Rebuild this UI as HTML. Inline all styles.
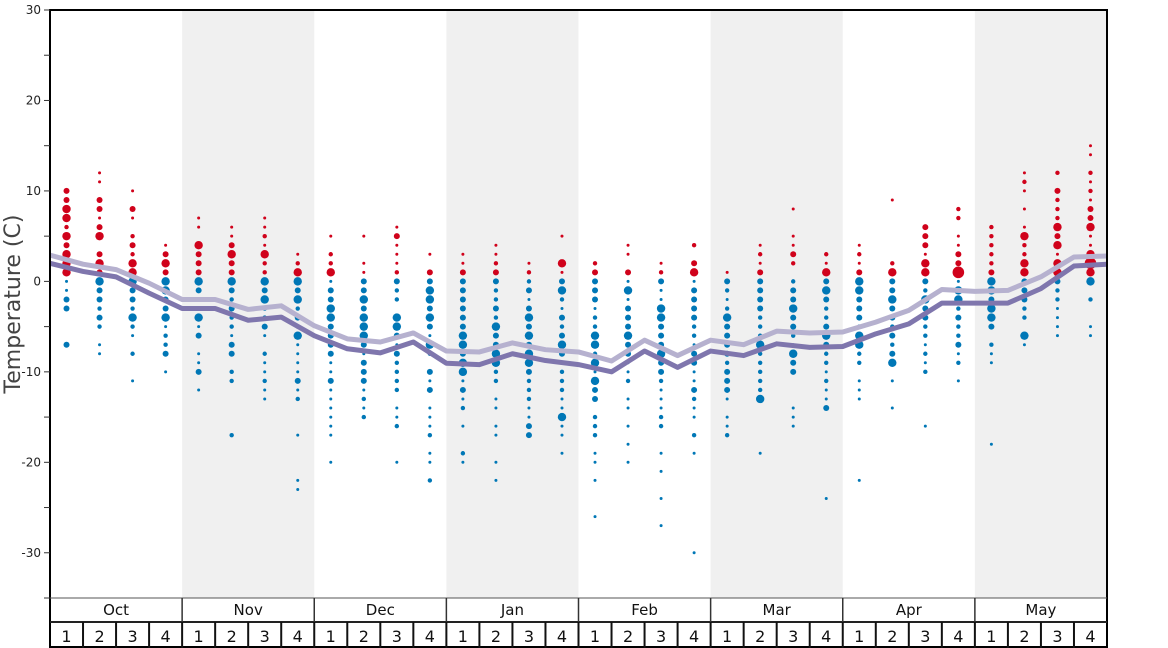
<!DOCTYPE html>
<html><head><meta charset="utf-8"><style>
html,body{margin:0;padding:0;background:#fff;}
svg{display:block;font-family:"DejaVu Sans","Liberation Sans",sans-serif;}
</style></head><body>
<svg id="chart" width="1168" height="648" viewBox="0 0 1168 648" xmlns="http://www.w3.org/2000/svg">
<g id="bands"></g>
<g id="dots"></g>
<g id="lines"></g>
<g id="axes"></g>
<text transform="translate(20,304) rotate(-90)" text-anchor="middle" font-size="22" fill="#444">Temperature (C)</text>
</svg>
<script>
const months = ["Oct","Nov","Dec","Jan","Feb","Mar","Apr","May"];
const weeks = ["1","2","3","4"];
const yTicks = [30,20,10,0,-10,-20,-30];
const yMinorTicks = [25,15,5,-5,-15,-25,-35];
// line values at week boundaries (33 points)
const darkLine = [2.0,1.1,0.5,-1.3,-3.0,-3.0,-4.3,-3.95,-6.0,-7.45,-7.9,-6.7,-9.05,-9.2,-8.0,-8.75,-9.2,-10.0,-7.7,-9.5,-7.7,-8.2,-6.9,-7.3,-7.2,-5.8,-4.7,-2.4,-2.4,-2.4,-0.8,1.7,1.9];
const lightLine = [2.9,1.9,1.3,-0.2,-2.0,-2.0,-3.1,-2.7,-4.9,-6.35,-6.7,-5.7,-7.7,-7.8,-6.8,-7.55,-7.8,-8.8,-6.5,-8.2,-6.5,-7.0,-5.5,-5.7,-5.6,-4.5,-3.2,-0.9,-1.1,-1.0,0.5,2.7,2.8];
// dots per week: "temp:size" (t tiny, s small, m medium, L large, X extra)
const weekDots = [
"10:m 9:m 8:L 7:L 6:s 5:L 4:m 3:L 2:L 1:L 0:t -1:t -2:m -3:m -7:m",
"12:t 11:t 9:m 8:m 7:t 6:m 5:L 3:m 2:L 1:m 0:L -1:m -2:m -3:s -4:m -5:s -7:t -8:t",
"10:t 8:m 7:t 5:s 4:m 3:s 2:L 1:L 0:L -1:m -2:m -3:s -4:L -5:s -6:t -8:s -11:t",
"4:t 3:m 2:L 1:m 0:L -1:L -2:m -3:m -4:L -5:t -6:s -7:s -8:m -10:t",
"7:t 6:t 4:L 3:m 2:m 1:m 0:L -1:m -2:s -3:s -4:L -5:t -6:m -8:t -9:t -10:m -12:t",
"6:t 5:t 4:m 3:L 2:m 1:m 0:L -1:m -2:s -3:m -4:s -5:s -6:t -7:m -8:m -10:s -11:s -17:s",
"7:t 6:t 5:s 4:t 3:L 2:s 1:s 0:L -1:m -2:L -3:s -4:s -5:m -6:t -8:s -9:t -10:t -11:s -12:t -13:t",
"3:t 2:s 1:L 0:L -1:m -2:L -3:s -4:m -5:s -6:L -7:t -8:t -9:t -10:t -11:m -12:t -13:s -17:t -22:t -23:t",
"5:t 3:s 2:s 1:L 0:t -1:m -2:m -3:L -4:L -5:m -6:m -7:m -8:m -9:t -10:t -11:m -12:t -13:t -14:t -15:t -16:t -17:t -20:t",
"5:t 2:t 1:t 0:m -1:m -2:L -3:m -4:L -5:L -6:L -7:m -8:t -9:m -10:m -11:m -12:t -13:s -14:t -15:s",
"6:t 5:m 4:t 3:t 2:t 1:s 0:m -1:s -2:s -4:L -5:L -6:m -7:t -8:m -9:s -10:s -11:s -12:s -14:t -15:t -16:s -20:t",
"3:t 1:m 0:m -1:L -2:L -3:m -4:L -5:m -6:t -7:L -8:s -10:m -11:t -12:m -14:t -15:t -16:t -17:s -19:t -20:t -22:s",
"3:t 2:t 1:m 0:m -1:m -2:m -3:m -4:m -5:m -6:L -7:L -8:m -9:L -10:L -11:t -12:m -13:t -14:s -16:t -19:s -20:t",
"4:t 3:t 2:s 1:m 0:m -1:s -2:s -3:m -4:s -5:L -6:m -7:m -8:L -9:L -10:s -11:s -13:t -14:t -16:t -17:t -20:t -22:t",
"2:t 1:s 0:s -1:m -2:t -3:m -4:L -5:m -6:L -7:m -8:L -9:L -10:m -11:s -12:s -13:s -14:t -15:t -16:m -17:m",
"5:t 2:L 1:t 0:m -1:L -2:s -3:t -4:m -5:s -6:m -7:L -8:m -9:t -10:s -11:s -12:s -13:t -14:t -15:L -16:t -17:t -19:t",
"2:s 1:m 0:m -1:m -2:m -3:t -4:s -5:s -6:L -7:L -8:s -9:L -10:t -11:L -12:m -13:m -15:s -16:s -17:s -19:t -20:t -22:t -26:t",
"4:t 3:t 1:m 0:t -1:L -2:t -3:m -4:m -5:m -6:L -7:m -8:m -9:t -10:t -11:s -13:t -14:t -16:t -18:t -20:t",
"2:t 1:s 0:m -1:t -2:t -3:L -4:L -5:m -6:m -7:m -8:L -9:m -10:m -11:s -12:t -13:t -14:t -15:s -16:s -19:t -21:t -24:t -27:t",
"4:s 2:m 1:L 0:t -1:m -2:m -3:m -4:m -5:s -6:s -7:t -8:m -9:m -10:t -11:t -12:m -13:s -14:t -15:t -17:s -19:t -30:t",
"1:t 0:m -1:s -2:t -3:s -4:L -5:m -6:m -7:m -8:m -9:s -10:m -11:m -12:m -13:t -15:t -16:t -17:s",
"4:t 3:s 2:t 1:m 0:m -1:m -2:m -3:m -4:s -5:s -6:s -7:L -8:s -9:s -10:s -11:s -12:s -13:L -19:t",
"8:t 5:t 4:t 3:m 2:s 0:s -1:m -2:m -3:L -4:m -5:m -6:s -7:t -8:L -9:m -10:m -14:t -15:t -16:t",
"3:s 2:t 1:L 0:m -1:L -2:m -3:s -4:s -5:m -6:L -7:m -8:s -9:s -10:t -11:s -12:t -13:t -14:m -24:t",
"4:t 3:s 2:t 1:m 0:L -1:L -2:m -3:m -4:m -5:s -6:L -7:L -8:s -9:s -11:t -12:t -13:t -22:t",
"9:t 2:s 1:L 0:m -1:m -2:L -3:m -4:m -5:s -6:m -7:s -8:m -9:L -11:t -14:t",
"6:m 5:m 4:m 3:t 2:L 1:L 0:m -1:s -2:L -3:m -4:m -5:s -6:s -7:t -8:s -9:t -10:s -16:t",
"8:s 7:s 5:t 4:t 3:m 2:m 1:X 0:t -1:L -2:L -3:s -4:m -5:s -6:s -7:m -8:t -9:s -11:t",
"6:s 5:s 4:s 3:s 2:s 1:m 0:L -1:L -2:m -3:L -4:L -5:m -7:s -8:t -9:t -18:t",
"12:t 11:s 10:t 8:t 6:t 5:L 4:s 3:s 2:L 1:L 0:m -1:m -2:m -3:s -4:s -6:L -7:t",
"12:s 10:m 9:s 8:s 7:s 6:L 5:m 4:L 3:t 2:L 1:L 0:m -1:s -2:s -3:t -4:t -5:t -6:t",
"15:t 14:t 12:s 11:t 10:s 9:t 8:m 7:m 6:L 5:t 4:t 3:L 2:X 1:L 0:L -2:s -5:t -6:t"
];
const NS="http://www.w3.org/2000/svg";
const X0=50, X1=1107, Y0=10, Y1=598, TMAX=30, TMIN=-35;
const colW=(X1-X0)/32;
function xScale(i){return X0+colW*i;}
function yScale(t){return Y0+(TMAX-t)*(Y1-Y0)/(TMAX-TMIN);}
function mk(tag,parent){const e=document.createElementNS(NS,tag);parent.appendChild(e);return e;}
const radius={t:1.5,s:2.2,m:3.0,L:4.2,X:5.8};
const bands=document.getElementById('bands');
months.forEach((m,i)=>{
  if(i%2===1){
    const r=mk('rect',bands);
    
    
    r.setAttribute('x',xScale(i*4));r.setAttribute('y',Y0);r.setAttribute('width',colW*4);r.setAttribute('height',Y1-Y0);r.setAttribute('fill','#f0f0f0');
  }
});
const dotsG=document.getElementById('dots');
weekDots.forEach((s,i)=>{
  const cx=xScale(i+0.5);
  s.split(' ').forEach(p=>{
    const [tv,sz]=p.split(':');const t=+tv;
    const c=mk('circle',dotsG);
    
    
    c.setAttribute('cx',cx);c.setAttribute('cy',yScale(t));c.setAttribute('r',radius[sz]);
    c.setAttribute('fill',t>0?'#d0021b':'#0077b6');
  });
});
const linesG=document.getElementById('lines');
function drawLine(arr,color,name){
  const p=mk('polyline',linesG);
  
  
  p.setAttribute('points',arr.map((v,i)=>xScale(i)+','+yScale(v)).join(' '));
  p.setAttribute('fill','none');p.setAttribute('stroke',color);p.setAttribute('stroke-width','5');p.setAttribute('stroke-linejoin','round');
}
drawLine(lightLine,'#b6b1cf','light-line');
drawLine(darkLine,'#7f76ad','dark-line');
const ax=document.getElementById('axes');
function line(x1,y1,x2,y2,w,col,name){const l=mk('line',ax);
  
  
  l.setAttribute('x1',x1);l.setAttribute('y1',y1);l.setAttribute('x2',x2);l.setAttribute('y2',y2);l.setAttribute('stroke',col);l.setAttribute('stroke-width',w);}
line(X0,Y0,X1+1,Y0,2,'#000','top-border');
line(X1,Y0,X1,648,2,'#000','right-border');
line(X0,Y0-1,X0,648,2,'#000','y-axis-line');
line(X0,Y1,X1,Y1,1,'#555','month-row-top');
line(X0,622,X1,622,2,'#222','week-row-top');
line(X0,647,X1,647,2,'#000','bottom-border');
yTicks.forEach(t=>{
  line(44,yScale(t),X0,yScale(t),1,'#333','y-tick');
  const tx=mk('text',ax);
  
  
  tx.setAttribute('x',41);tx.setAttribute('y',yScale(t)+4);tx.setAttribute('text-anchor','end');tx.setAttribute('font-size','12');tx.setAttribute('fill','#222');tx.textContent=t;
});
yMinorTicks.forEach(t=>{line(44,yScale(t),X0,yScale(t),1,'#333','y-minor-tick');});
months.forEach((m,i)=>{
  if(i>0) line(xScale(i*4),Y1,xScale(i*4),622,1.5,'#333','month-divider');
  const tx=mk('text',ax);
  
  
  tx.setAttribute('x',xScale(i*4+2));tx.setAttribute('y',615);tx.setAttribute('text-anchor','middle');tx.setAttribute('font-size','15');tx.setAttribute('fill','#111');tx.textContent=m;
  weeks.forEach((w,j)=>{
    const k=i*4+j;
    if(k>0) line(xScale(k),622,xScale(k),648,2,'#111','week-divider');
    const wt=mk('text',ax);
    
    
    wt.setAttribute('x',xScale(k+0.5));wt.setAttribute('y',642);wt.setAttribute('text-anchor','middle');wt.setAttribute('font-size','16');wt.setAttribute('fill','#111');wt.textContent=w;
  });
});
</script>
</body></html>
